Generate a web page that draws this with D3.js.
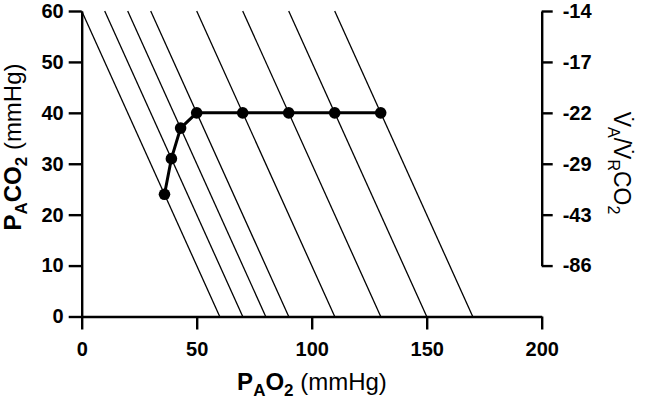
<!DOCTYPE html>
<html>
<head>
<meta charset="utf-8">
<script src="https://cdn.jsdelivr.net/npm/d3@7"></script>
<style>
  html, body { margin: 0; padding: 0; background: #fff; }
  svg { display: block; }
  text { font-family: "Liberation Sans", Arial, sans-serif; fill: #000; }
</style>
</head>
<body>
<svg id="chart" width="647" height="402"></svg>
<script>
// ---- data ----
const isoStarts = [0, 10, 20, 30, 50, 70, 90, 110];      // PAO2 where each line meets PACO2 = 60
const isoSpan = 60;                                        // each line: PAO2 + PACO2 = start + 60
const pao2 = [36, 39, 43, 50, 70, 90, 110, 130];
const paco2 = [24, 31, 37, 40, 40, 40, 40, 40];
const xTicks = [0, 50, 100, 150, 200];
const yTicks = [0, 10, 20, 30, 40, 50, 60];
const rightTickPos = [60, 50, 40, 30, 20, 10];
const rightTickLabels = ["-14", "-17", "-22", "-29", "-43", "-86"];

// ---- layout ----
const svg = d3.select("#chart");
const x = d3.scaleLinear().domain([0, 200]).range([81.7, 541.7]);
const y = d3.scaleLinear().domain([0, 60]).range([316.5, 11]);
const yR = d3.scaleLinear().domain([10, 60]).range([y(10), y(60)]);

// iso lines
svg.append("g").selectAll("line").data(isoStarts).join("line")
  .attr("x1", d => x(d)).attr("y1", y(60))
  .attr("x2", d => x(d + isoSpan)).attr("y2", y(0))
  .attr("stroke", "#000").attr("stroke-width", 1.3);

// axes
function styleAxis(g, size) {
  g.selectAll("path.domain").attr("stroke", "#000").attr("stroke-width", 2.4);
  g.selectAll(".tick line").attr("stroke", "#000").attr("stroke-width", 2.4);
  g.selectAll(".tick text").attr("font-size", size).attr("font-weight", "bold")
    .style("font-family", '"Liberation Sans", Arial, sans-serif').attr("fill", "#000");
}
const gx = svg.append("g").attr("transform", `translate(0,${y(0)})`)
  .call(d3.axisBottom(x).tickValues(xTicks).tickSize(13).tickSizeOuter(0).tickPadding(12).tickFormat(d3.format("d")));
styleAxis(gx, 20);
const gy = svg.append("g").attr("transform", `translate(${x(0)},0)`)
  .call(d3.axisLeft(y).tickValues(yTicks).tickSize(13).tickSizeOuter(0).tickPadding(5).tickFormat(d3.format("d")));
styleAxis(gy, 20);
const gr = svg.append("g").attr("transform", `translate(${x(200)},0)`)
  .call(d3.axisRight(yR).tickValues(rightTickPos).tickSize(11).tickSizeOuter(0).tickPadding(10)
    .tickFormat((d, i) => rightTickLabels[i]));
styleAxis(gr, 20);

// data line + points
const pts = pao2.map((v, i) => [v, paco2[i]]);
svg.append("path").datum(pts)
  .attr("d", d3.line().x(d => x(d[0])).y(d => y(d[1])))
  .attr("fill", "none").attr("stroke", "#000").attr("stroke-width", 3);
svg.append("g").selectAll("circle").data(pts).join("circle")
  .attr("cx", d => x(d[0])).attr("cy", d => y(d[1])).attr("r", 5.8).attr("fill", "#000");

// titles
function rich(t, parts, main, sub, shift) {
  parts.forEach(p => {
    const s = t.append("tspan").text(p.t)
      .attr("font-size", p.sub ? sub : main)
      .attr("font-weight", p.b ? "bold" : "normal");
    if (p.dy) s.attr("dy", p.dy * shift);
  });
}
const xt = svg.append("text").attr("x", 312).attr("y", 390).attr("text-anchor", "middle");
rich(xt, [
  {t: "P", b: 1}, {t: "A", b: 1, sub: 1, dy: 1}, {t: "O", b: 1, dy: -1},
  {t: "2", b: 1, sub: 1, dy: 1}, {t: " (mmHg)", dy: -1}
], 24, 17, 6);
const yt = svg.append("text").attr("transform", "translate(21,147) rotate(-90)").attr("text-anchor", "middle");
rich(yt, [
  {t: "P", b: 1}, {t: "A", b: 1, sub: 1, dy: 1}, {t: "CO", b: 1, dy: -1},
  {t: "2", b: 1, sub: 1, dy: 1}, {t: " (mmHg)", dy: -1}
], 24, 17, 6);
const rt = svg.append("text").attr("transform", "translate(614,163) rotate(90)").attr("text-anchor", "middle");
rich(rt, [
  {t: "V\u0307"}, {t: "A", sub: 1, dy: 1}, {t: "/V\u0307", dy: -1},
  {t: "R", sub: 1, dy: 1}, {t: "CO", dy: -1}, {t: "2", sub: 1, dy: 1}
], 23, 16, 6);
</script>
</body>
</html>
